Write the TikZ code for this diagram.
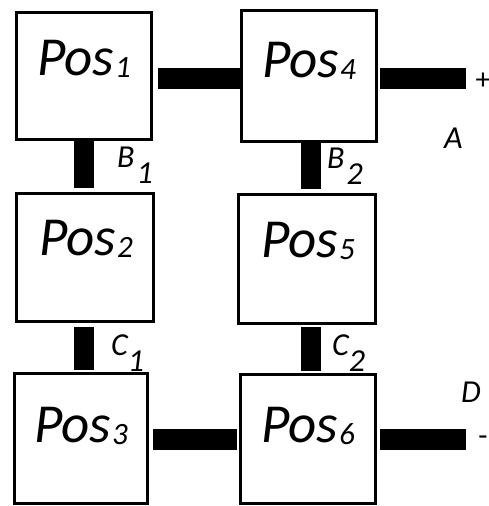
\documentclass[tikz,border=0pt]{standalone}
\usepackage{fontspec}
\setmainfont{Carlito}
\usetikzlibrary{calc}
% position name with a small italic index
\newcommand\posname[1]{{\fontsize{55}{60}\selectfont\itshape Pos\kern1pt\raisebox{-2pt}{\fontsize{31}{31}\selectfont #1}}}
% terminal letter with a deeply lowered index
\newcommand\termname[3]{{\fontsize{32}{34}\selectfont\itshape #1\kern#3\raisebox{-16pt}{#2}}}
\begin{document}
\begin{tikzpicture}[x=1pt,y=-1pt,
  posbox/.style={draw,line width=3pt,inner sep=0pt},
  postext/.style={inner sep=0pt,anchor=base},
  termtext/.style={inner sep=0pt,anchor=base west},
  signtext/.style={inner sep=0pt,font=\fontsize{30}{32}\selectfont},
  hbar/.style={line width=21pt},
  vbar/.style={line width=20pt}]
\useasboundingbox (0,0) rectangle (489,506);
\fill[white] (0,0) rectangle (489,506);

% the six position boxes
\node[posbox,minimum width=135pt,minimum height=127pt] (p1) at (84,76) {};
\node[posbox,minimum width=135pt,minimum height=131pt] (p4) at (309,76) {};
\node[posbox,minimum width=137pt,minimum height=128pt] (p2) at (85,257.5) {};
\node[posbox,minimum width=137pt,minimum height=129pt] (p5) at (307,259) {};
\node[posbox,minimum width=133pt,minimum height=130pt] (p3) at (81,438.5) {};
\node[posbox,minimum width=135pt,minimum height=129pt] (p6) at (308,439) {};

% box captions
\node[postext] (t1) at (84,75) {\posname{1}};
\node[postext] (t4) at (309,77) {\posname{4}};
\node[postext] (t2) at (86,255) {\posname{2}};
\node[postext] (t5) at (308,257) {\posname{5}};
\node[postext] (t3) at (81,442) {\posname{3}};
\node[postext] (t6) at (308,442) {\posname{6}};

% free ends of the two outer leads
\coordinate (aend) at (466,78.5);
\coordinate (dend) at (466,439.5);

% horizontal links
\draw[hbar] ($(p1.east)+(5,2.5)$) -- ($(p4.west)+(0,2.5)$);
\draw[hbar] ($(p4.east)+(2,2.5)$) -- (aend);
\draw[hbar] ($(p3.east)+(4,1)$) -- ($(p3.east -| p6.west)+(-2,1)$);
\draw[hbar] ($(p6.east)+(3,0.5)$) -- (dend);

% vertical links
\draw[vbar] (p1.south) -- ($(p1.south |- p2.north)+(0,-4)$);
\draw[vbar] ($(p4.south)+(2,0)$) -- ($(p4.south |- p5.north)+(2,-4)$);
\draw[vbar] ($(p2.south)+(-1,4)$) -- ($(p2.south |- p3.north)+(-1,-2)$);
\draw[vbar] ($(p5.south)+(4,2)$) -- ($(p5.south |- p6.north)+(4,-2)$);

% link labels
\node[termtext] (lb1) at (117,167) {\termname{B}{1}{2pt}};
\node[termtext] (lb2) at (327,168) {\termname{B}{2}{2pt}};
\node[termtext] (lc1) at (111,355) {\termname{C}{1}{0pt}};
\node[termtext] (lc2) at (332,355) {\termname{C}{2}{0pt}};
\node[termtext] (la) at (444,148) {\fontsize{32}{34}\selectfont\itshape A};
\node[termtext] (ld) at (461,402) {\fontsize{32}{34}\selectfont\itshape D};

% polarity marks
\node[signtext] (plus) at (483,81) {+};
\node[signtext] (minus) at (483,441) {-};
\end{tikzpicture}
\end{document}
